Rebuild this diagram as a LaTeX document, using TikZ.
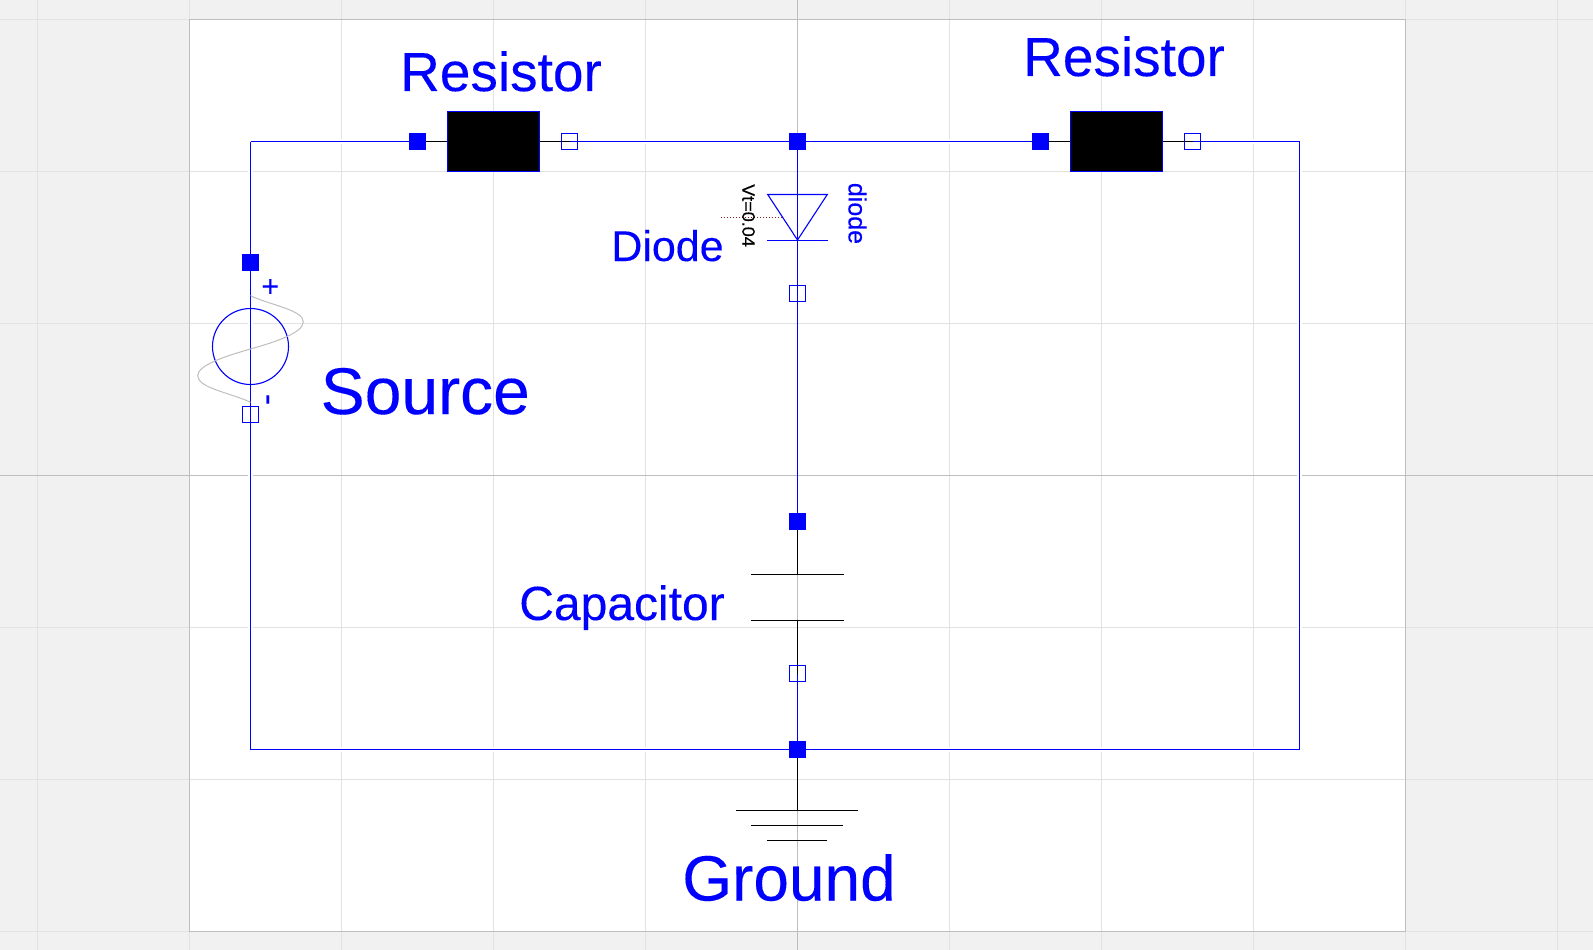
\documentclass[tikz,border=0pt]{standalone}
\usepackage{fontspec}
\setmainfont[FakeBold=0.2]{Liberation Sans}
\pgfdeclarelayer{bgl}
\pgfdeclarelayer{wires}
\pgfsetlayers{bgl,wires,main}
\definecolor{mdlblue}{RGB}{0,0,255}
\definecolor{canvasgray}{RGB}{241,241,241}
\definecolor{gridgray}{RGB}{226,226,226}
\definecolor{axisgray}{RGB}{190,190,190}
\definecolor{srcgray}{RGB}{190,190,190}
\definecolor{dotred}{RGB}{130,30,30}
\tikzset{
  wire/.style={draw=mdlblue,line width=1.2pt},
  lead/.style={draw=black,line width=1.2pt},
  thinblue/.style={draw=mdlblue,line width=1.1pt},
  conn/.style={rectangle,minimum size=16pt,inner sep=0pt,line width=1.2pt,draw=mdlblue},
  connon/.style={conn,fill=mdlblue},
  connoff/.style={conn},
  resbody/.style={rectangle,draw=mdlblue,fill=black,line width=1.2pt,minimum width=92.4pt,minimum height=60.4pt,inner sep=0pt},
  lbl/.style={text=mdlblue,inner sep=0pt,anchor=base},
  halo/.style={draw=white,line width=5pt},
}
\newcommand{\fsz}[1]{\fontsize{#1pt}{#1pt}\selectfont}
\begin{document}
\begin{tikzpicture}[x=1pt,y=-1pt]
\useasboundingbox (0,0) rectangle (1593,950);
% canvas
\begin{pgfonlayer}{bgl}
\fill[canvasgray] (0,0) rectangle (1593,950);
\fill[white] (189.5,19.5) rectangle (1405.5,931.5);
\foreach \gx in {37.5,341.5,493.5,645.5,949.5,1101.5,1253.5,1557.5}
  \draw[gridgray,line width=1pt] (\gx,0) -- (\gx,950);
\foreach \gy in {171.5,323.5,627.5,779.5}
  \draw[gridgray,line width=1pt] (0,\gy) -- (1593,\gy);
\draw[gridgray,line width=1pt] (0,19.5) -- (1593,19.5) (0,931.5) -- (1593,931.5);
\draw[gridgray,line width=1pt] (189.5,0) -- (189.5,950) (1405.5,0) -- (1405.5,950);
\draw[axisgray,line width=1pt] (189.5,19.5) rectangle (1405.5,931.5);
\draw[axisgray,line width=1pt] (797.5,0) -- (797.5,950) (0,475.5) -- (1593,475.5);
\end{pgfonlayer}

% corners and junction points
\coordinate (tl) at (250.5,141.5);
\coordinate (tr) at (1299.5,141.5);
\coordinate (bl) at (250.5,749.5);
\coordinate (br) at (1299.5,749.5);

% connectors squares
\node[connon] (srcp) at (250.5,262.5) {};
\node[connoff] (srcn) at (250.5,414.5) {};
\node[connon] (r1p) at (417.5,141.5) {};
\node[resbody] (r1) at (493.5,141.5) {};
\node[connoff] (r1n) at (569.5,141.5) {};
\node[connon] (jtop) at (797.5,141.5) {};
\node[connon] (r2p) at (1040.5,141.5) {};
\node[resbody] (r2) at (1116.5,141.5) {};
\node[connoff] (r2n) at (1192.5,141.5) {};
\node[connoff] (dn) at (797.5,293.5) {};
\node[connon] (cp) at (797.5,521.5) {};
\node[connoff] (cn) at (797.5,673.5) {};
\node[connon] (jbot) at (797.5,749.5) {};

% source
\node[circle,draw=mdlblue,line width=1.1pt,minimum size=76pt,inner sep=0pt] (srccirc) at (250.5,346.5) {};
\draw[srcgray,line width=1pt] (250.5,295.7)
  .. controls (270,305) and (303.3,310) .. (303.3,321.7)
  .. controls (303.3,333) and (275,342) .. (250.5,349)
  .. controls (226,356) and (197.7,365) .. (197.7,375.7)
  .. controls (197.7,388) and (231,393) .. (250.5,402.3);
\node[text=mdlblue,inner sep=0pt,rotate=-90,font=\fsz{30}] (plus) at (269,286.5) {+};
\node[text=mdlblue,inner sep=0pt,rotate=-90,font=\fsz{34}] (minus) at (264,399.5) {-};

% diode
\coordinate (dtl) at (767.7,194.5);
\coordinate (dtr) at (827.3,194.5);
\coordinate (dapex) at (797.5,240);
\coordinate (dbl) at (767,240.5);
\coordinate (dbr) at (828,240.5);
\draw[thinblue] (dtl) -- (dtr) -- (dapex) -- cycle;
\draw[thinblue] (dbl) -- (dbr);
\coordinate (vtl) at (721,217.5);
\coordinate (vtr) at (782,217.5);
\draw[dotred,line width=1pt,dotted] (vtl) -- (vtr);

% capacitor
\coordinate (c1l) at (751,574.5);
\coordinate (c1r) at (844,574.5);
\coordinate (c2l) at (751,620.5);
\coordinate (c2r) at (844,620.5);
\coordinate (c1m) at (797.5,574.5);
\coordinate (c2m) at (797.5,620.5);
\draw[lead] (c1l) -- (c1r);
\draw[lead] (c2l) -- (c2r);

% ground
\coordinate (g1l) at (736,810.5);
\coordinate (g1r) at (858,810.5);
\coordinate (g1m) at (797.5,810.5);
\coordinate (g2l) at (751,825.5);
\coordinate (g2r) at (843,825.5);
\coordinate (g3l) at (767,840.5);
\coordinate (g3r) at (827,840.5);
\draw[lead] (g1l) -- (g1r);
\draw[lead] (g2l) -- (g2r);
\draw[lead] (g3l) -- (g3r);

% labels
\node[lbl,font=\fsz{55}] (t1) at (501,91) {Resistor};
\node[lbl,font=\fsz{55}] (t2) at (1124,76) {Resistor};
\node[lbl,font=\fsz{66},anchor=base west] (t3) at (320.5,414) {Source};
\node[lbl,font=\fsz{64}] (t4) at (789,900.5) {Ground};
\node[lbl,font=\fsz{43}] (t5) at (667.5,261) {Diode};
\node[lbl,font=\fsz{48}] (t6) at (622,620) {Capacitor};
\node[text=mdlblue,inner sep=0pt,rotate=-90,font=\fsz{25}] (t7) at (857.5,213.5) {diode};
\node[text=black,inner sep=0pt,rotate=-90,font=\fsz{18}] (t8) at (748.5,215.5) {Vt=0.04};

% wires
\begin{pgfonlayer}{wires}
\draw[halo] (tl) -- (tr) -- (br) -- (bl) -- cycle;
\draw[wire] (tl) -- (r1p.center);
\draw[wire] (tl) -- (srcp.center);
\draw[wire] (srcp.center) -- (srcn.center);
\draw[wire] (srcn.center) -- (bl) -- (jbot.center);
\draw[wire] (jbot.center) -- (br) -- (tr) -- (r2n.center);
\draw[lead] (r1p.center) -- (r1.west);
\draw[lead] (r1.east) -- (r1n.center);
\draw[wire] (r1n.center) -- (jtop.center);
\draw[wire] (jtop.center) -- (r2p.center);
\draw[lead] (r2p.center) -- (r2.west);
\draw[lead] (r2.east) -- (r2n.center);
\draw[wire] (jtop.center) -- (dn.center);
\draw[wire] (dn.center) -- (cp.center);
\draw[lead] (cp.center) -- (c1m);
\draw[lead] (c2m) -- (cn.center);
\draw[wire] (cn.center) -- (jbot.center);
\draw[lead] (jbot.center) -- (g1m);
\end{pgfonlayer}
\end{tikzpicture}
\end{document}
